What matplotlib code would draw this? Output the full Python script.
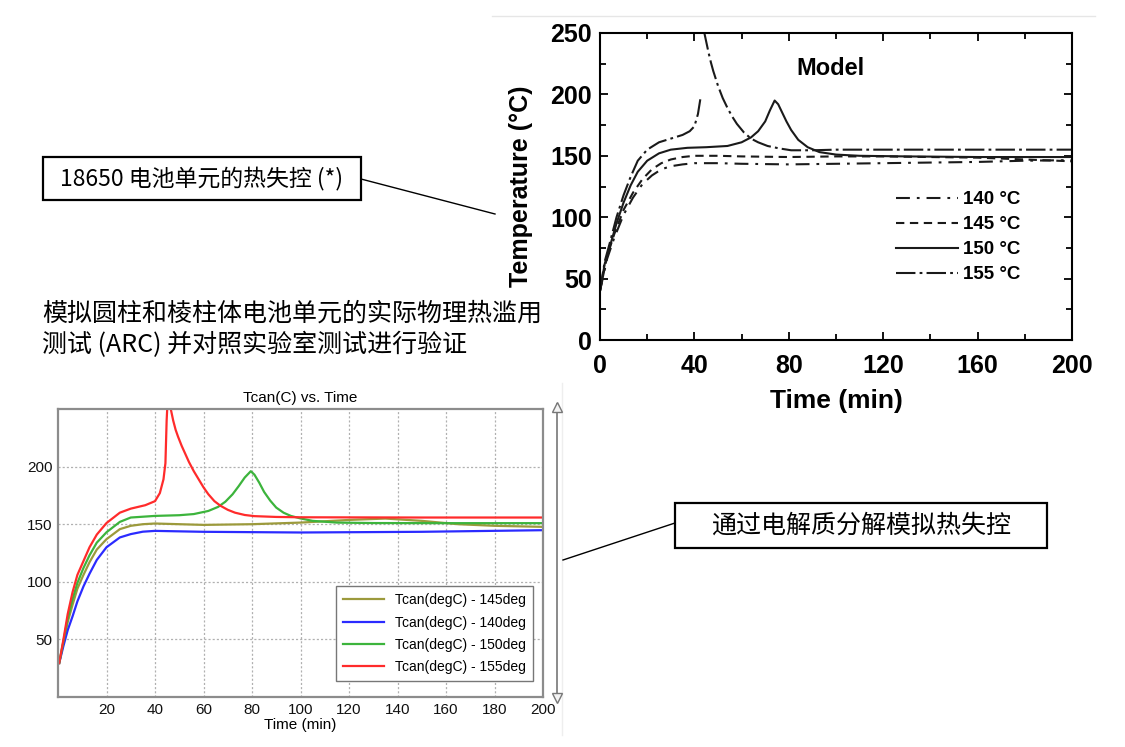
import numpy as np
import matplotlib
matplotlib.use('Agg')
import matplotlib.pyplot as plt
from matplotlib.patches import Rectangle

plt.rcParams['lines.scale_dashes'] = False
CJK = ['Noto Sans CJK SC', 'DejaVu Sans']
ARIAL = ['Liberation Sans', 'DejaVu Sans']

# ---- published model curves (top chart) ----
model_labels = ['140 °C', '145 °C', '150 °C', '155 °C']
model_x_140 = [0, 3, 6, 10, 14, 18, 22, 26, 30, 35, 40, 50, 60, 80, 100, 120, 140, 160, 180, 200]
model_y_140 = [40, 66, 83, 102, 116, 127, 134, 139, 141.5, 143, 144, 144, 143.5, 143, 143.5, 144, 144.5, 145, 146, 146.5]
model_x_145 = [0, 3, 6, 10, 14, 18, 22, 26, 30, 35, 40, 50, 60, 80, 100, 120, 140, 160, 180, 200]
model_y_145 = [40, 68, 86, 106, 120, 131, 139, 144, 147, 149, 150, 150, 149.5, 149, 149.5, 149.5, 149, 148.5, 147, 145.5]
model_x_150 = [0, 2, 4, 7, 10, 13, 16, 20, 25, 30, 37, 45, 54, 60, 64, 67, 70, 72, 74, 75.5, 77, 79, 81, 84, 88, 93, 100, 110, 130, 160, 200]
model_y_150 = [40, 62, 75, 95, 112, 126, 137, 146, 152, 155, 156.5, 157, 158, 161, 165, 170, 178, 187, 195, 192, 186, 178, 171, 163, 157, 153, 151, 150, 149.5, 149, 149]
model_x_155 = [0, 2, 4, 7, 10, 13, 16, 20, 25, 30, 35, 38, 40, 41.5, 42.5, 43, 44, 45, 46, 47, 48, 50, 52, 54, 56, 58, 61, 64, 67, 71, 76, 81, 90, 100, 130, 160, 200]
model_y_155 = [40, 64, 78, 100, 118, 133, 146, 155, 161, 164, 167, 170, 174, 184, 196, np.nan, 252, 243, 234, 226, 219, 207, 197, 189, 182, 176, 169, 164, 161, 158, 156, 154.5, 154.5, 155, 155, 155, 155]

# ---- simulation curves (bottom chart) ----
sim_labels = ['Tcan(degC) - 145deg', 'Tcan(degC) - 140deg', 'Tcan(degC) - 150deg', 'Tcan(degC) - 155deg']
sim_x_145 = [0.5, 2.2, 4, 6, 8, 10.5, 13, 16, 20, 25.5, 30, 35, 40, 50, 60, 80, 100, 120, 135, 150, 165, 180, 200]
sim_y_145 = [29.5, 47, 65, 80, 94, 106, 117, 128, 137, 145.7, 148.6, 150, 150.6, 150, 149.4, 150, 151.4, 153.7, 154.9, 152.9, 150, 148.6, 147.7]
sim_x_140 = [0.5, 2.2, 4, 6, 8, 10.5, 13, 16, 20, 25.5, 30, 35, 40, 60, 100, 150, 200]
sim_y_140 = [29.5, 44, 58, 70, 83, 96, 107, 119, 130, 138.5, 141.4, 143.5, 144.2, 143.4, 142.8, 143.4, 144.8]
sim_x_150 = [0.5, 2.2, 4, 6, 8, 10.5, 13, 16, 20, 25.5, 30, 40, 50, 56, 62, 66, 69, 72, 74.5, 77, 79.5, 81, 83, 85, 87.5, 90, 93, 96, 100, 105, 115, 130, 160, 200]
sim_y_150 = [29.5, 48, 68, 85, 99, 112, 123, 134, 143, 152, 155.8, 157.2, 157.8, 158.8, 161.5, 165, 169.5, 176, 183, 190.5, 196, 193, 186, 178, 170.5, 164.4, 160, 157.2, 155, 152.9, 151.4, 151, 150.9, 150.9]
sim_x_155 = [0.5, 2.2, 4, 6, 8, 10.5, 13, 16, 20, 25.5, 30, 36, 40, 42, 43.5, 44.3, 44.8, 45.5, 46.5, 47.5, 48.5, 49.5, 51, 52.5, 54, 56, 58, 60, 62, 64.5, 67, 70, 73, 77, 81, 90, 100, 150, 200]
sim_y_155 = [29.5, 49.5, 72, 91, 106, 118, 130, 141, 151, 160, 163.5, 166.5, 170, 177, 189, 203, 240, 270, 250, 240, 232, 226, 218, 211, 204, 196, 189, 182, 176, 170, 166, 162.5, 160, 158, 157, 156.3, 156, 155.8, 155.8]

W, H = 1125, 747
fig = plt.figure(figsize=(W / 100, H / 100), dpi=100)

def px_rect(x0, y0, x1, y1):
    return [x0 / W, 1 - y1 / H, (x1 - x0) / W, (y1 - y0) / H]

# overlay for the slide annotations
ov = fig.add_axes([0, 0, 1, 1])
ov.set_xlim(0, W)
ov.set_ylim(H, 0)
ov.axis('off')
ov.plot([492, 1095], [16, 16], color='#e6e6e6', lw=1)
ov.plot([562, 562], [383, 735], color='#eeeeee', lw=1)
ov.add_patch(Rectangle((43, 157), 318, 43, fill=False, ec='black', lw=1.6))
ov.text(202, 179, '18650 电池单元的热失控 (*)', ha='center', va='center', fontsize=16.5, family=CJK)
ov.plot([361, 495], [179, 214], color='black', lw=1)
ov.text(42, 314, '模拟圆柱和棱柱体电池单元的实际物理热滥用', ha='left', va='center', fontsize=18, family=CJK)
ov.text(42, 345, '测试 (ARC) 并对照实验室测试进行验证', ha='left', va='center', fontsize=18, family=CJK)
ov.add_patch(Rectangle((675, 503), 372, 45, fill=False, ec='black', lw=1.6))
ov.text(861, 526, '通过电解质分解模拟热失控', ha='center', va='center', fontsize=18, family=CJK)
ov.plot([675, 563], [523, 560], color='black', lw=1)
# scrollbar of the simulation window
ov.plot([557, 557], [404, 700], color='#777777', lw=1.2)
ov.plot([557], [407], marker='^', ms=7, mfc='#f4f4f4', mec='#777777')
ov.plot([557], [698], marker='v', ms=7, mfc='#f4f4f4', mec='#777777')

# ---- top chart ----
ax = fig.add_axes(px_rect(600, 33, 1072, 340))
dashes = [(0, (10, 5, 2, 5)), (0, (6, 4)), '-', (0, (14, 3, 2, 3))]
model_x = [model_x_140, model_x_145, model_x_150, model_x_155]
model_y = [model_y_140, model_y_145, model_y_150, model_y_155]
for xs, ys, ls, lab in zip(model_x, model_y, dashes, model_labels):
    ax.plot(xs, ys, color='#1a1a1a', lw=1.5, linestyle=ls, label=lab)
ax.set_xlim(0, 200)
ax.set_ylim(0, 250)
ax.set_xticks(np.arange(0, 201, 40))
ax.set_xticks(np.arange(0, 201, 20), minor=True)
ax.set_yticks(np.arange(0, 251, 50))
ax.set_yticks(np.arange(0, 251, 25), minor=True)
ax.tick_params(which='both', direction='in', top=True, right=True, width=1.3, labelsize=18)
ax.tick_params(axis='x', which='both', pad=10)
ax.tick_params(axis='y', which='both', pad=6)
ax.tick_params(which='major', length=6)
ax.tick_params(which='minor', length=4)
for t in ax.get_xticklabels() + ax.get_yticklabels():
    t.set_fontweight('bold')
    t.set_family(ARIAL)
for s in ax.spines.values():
    s.set_linewidth(1.5)
ax.set_xlabel('Time (min)', fontsize=19, weight='bold', family=ARIAL, labelpad=8)
ax.set_ylabel('Temperature (°C)', fontsize=18, weight='bold', family=ARIAL, labelpad=12)
ax.text(97.5, 221, 'Model', ha='center', va='center', fontsize=17, weight='bold', family=ARIAL)
leg = ax.legend(loc='upper left', bbox_to_anchor=(0.592, 0.54), frameon=False,
                handlelength=3.3, handletextpad=0.25, labelspacing=0.42,
                prop={'family': ARIAL, 'weight': 'bold', 'size': 13.5})

# ---- bottom chart ----
bx = fig.add_axes(px_rect(58, 409, 543, 697))
sim_colors = ['#9c9a3c', '#2b2bff', '#3cb43c', '#ff2b2b']
sim_x = [sim_x_145, sim_x_140, sim_x_150, sim_x_155]
sim_y = [sim_y_145, sim_y_140, sim_y_150, sim_y_155]
for xs, ys, c, lab in zip(sim_x, sim_y, sim_colors, sim_labels):
    bx.plot(xs, ys, color=c, lw=1.6, label=lab)
bx.set_xlim(0, 200)
bx.set_ylim(0, 250)
bx.set_xticks(np.arange(20, 201, 20))
bx.set_yticks(np.arange(50, 201, 50))
bx.grid(True, color='#b0b0b0', linestyle=(0, (1.5, 1.5)), lw=0.9)
bx.tick_params(length=0, labelsize=11, pad=4, labelcolor='#111111')
for t in bx.get_xticklabels() + bx.get_yticklabels():
    t.set_family(ARIAL)
for s in bx.spines.values():
    s.set_color('#8c8c8c')
    s.set_linewidth(1.6)
bx.set_title('Tcan(C) vs. Time', fontsize=11, family=ARIAL, pad=5)
bx.set_xlabel('Time (min)', fontsize=11, family=ARIAL, labelpad=1)
bleg = bx.legend(loc='lower right', bbox_to_anchor=(0.98, 0.055), borderaxespad=0,
                 fancybox=False, edgecolor='#777777', framealpha=1,
                 handlelength=3.0, labelspacing=0.6, borderpad=0.5,
                 prop={'family': ARIAL, 'size': 10})
bleg.get_frame().set_linewidth(1.0)

fig.savefig('out.png', dpi=100)
